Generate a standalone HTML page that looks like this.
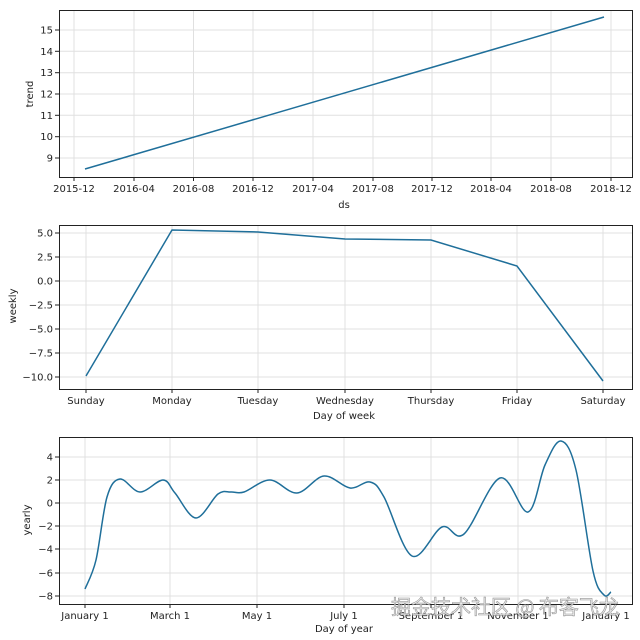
<!DOCTYPE html>
<html><head><meta charset="utf-8"><style>
body{margin:0;background:#fff}
svg{display:block;font-family:"DejaVu Sans","Liberation Sans",sans-serif;font-size:10px;fill:#222}
.g{stroke:#e0e0e0;stroke-width:1}
.ax{fill:none;stroke:#222;stroke-width:1}
.ln{fill:none;stroke:#1f6f9a;stroke-width:1.5}
.tk{stroke:#222;stroke-width:1}
</style></head><body>
<svg id="s" width="640" height="640" viewBox="0 0 640 640">
<g id="p1"></g>
<path class="ln" d="M85,169 L604,17"/>
<rect class="ax" x="59.5" y="10.5" width="573" height="167"/>
<text x="344" y="208" text-anchor="middle">ds</text>
<text transform="translate(33,94) rotate(-90)" text-anchor="middle">trend</text>

<path class="ln" d="M86,376 L172,230 L258,232 L345,239 L431,240 L517,266 L603,381"/>
<rect class="ax" x="59.5" y="225.5" width="573" height="164"/>
<text x="344" y="419" text-anchor="middle">Day of week</text>
<text transform="translate(16,306) rotate(-90)" text-anchor="middle">weekly</text>

<path id="yc" class="ln" d=""/>
<rect class="ax" x="59.5" y="437.5" width="573" height="167"/>
<text x="344" y="632" text-anchor="middle">Day of year</text>
<text transform="translate(30,520) rotate(-90)" text-anchor="middle">yearly</text>
<text x="505" y="614" text-anchor="middle" style="font-family:'Noto Sans CJK SC',sans-serif;font-size:20px;fill:rgba(235,235,235,0.85);stroke:rgba(110,110,110,0.7);stroke-width:0.6">掘金技术社区 @ 布客飞龙</text>
</svg>
<script>
const s=document.getElementById('s'),NS='http://www.w3.org/2000/svg';
function el(t,a,txt){const e=document.createElementNS(NS,t);for(const k in a)e.setAttribute(k,a[k]);if(txt!==undefined)e.textContent=txt;s.insertBefore(e,s.firstChild.nextSibling);return e;}
function panel(top,bot,xs,ys){
 xs.forEach(([x,l])=>{el('line',{class:'g',x1:x,x2:x,y1:top,y2:bot});el('line',{class:'tk',x1:x,x2:x,y1:bot,y2:bot+4});el('text',{x:x,y:bot+15,'text-anchor':'middle'},l);});
 ys.forEach(([y,l])=>{el('line',{class:'g',x1:59,x2:632,y1:y,y2:y});el('line',{class:'tk',x1:55,x2:59,y1:y,y2:y});el('text',{x:53,y:y+3.5,'text-anchor':'end'},l);});
}
panel(10,177,[[74,'2015-12'],[134,'2016-04'],[193.5,'2016-08'],[253,'2016-12'],[313,'2017-04'],[373,'2017-08'],[432,'2017-12'],[491,'2018-04'],[551,'2018-08'],[611,'2018-12']],
 [[30,'15'],[51.3,'14'],[72.7,'13'],[94,'12'],[115.3,'11'],[136.7,'10'],[158,'9']]);
panel(225,389,[[86,'Sunday'],[172,'Monday'],[258,'Tuesday'],[345,'Wednesday'],[431,'Thursday'],[517,'Friday'],[603,'Saturday']],
 [[233,'5.0'],[257,'2.5'],[281,'0.0'],[305,'−2.5'],[329,'−5.0'],[353,'−7.5'],[377,'−10.0']]);
panel(437,604,[[85,'January 1'],[170,'March 1'],[257,'May 1'],[344,'July 1'],[431,'September 1'],[518,'November 1'],[606,'January 1']],
 [[457,'4'],[480,'2'],[503,'0'],[526,'−2'],[549,'−4'],[573,'−6'],[596,'−8']]);
const p=[[85,589],[96,560],[107,497],[120,479],[140,492],[163,480],[175,493],[196,518],[218,494],[231,492],[244,492],[270,480],[297,493],[324,476],[350,488],[370,482],[384,497],[412,556],[442,527],[464,534],[500,478],[528,512],[545,465],[561,441],[576,470],[593,571],[604,595],[611,592]];
let d='M'+p[0];
for(let i=0;i<p.length-1;i++){const a=p[i-1]||p[i],b=p[i],c=p[i+1],e=p[i+2]||c;
 d+=` C${b[0]+(c[0]-a[0])/6},${b[1]+(c[1]-a[1])/6} ${c[0]-(e[0]-b[0])/6},${c[1]-(e[1]-b[1])/6} ${c[0]},${c[1]}`;}
document.getElementById('yc').setAttribute('d',d);
</script>
</body></html>
